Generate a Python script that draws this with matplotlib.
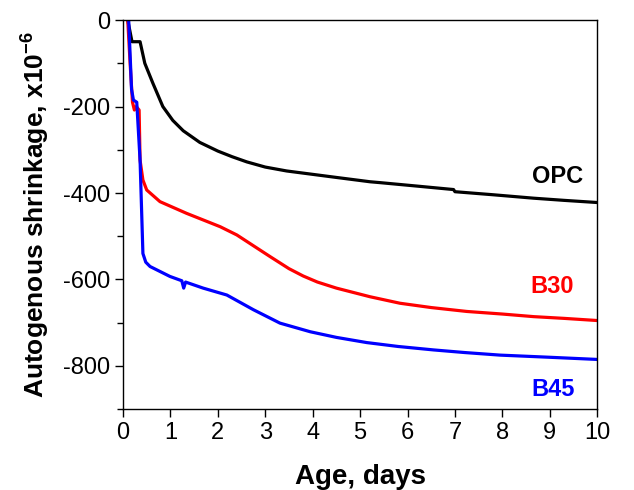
import numpy as np
import matplotlib.pyplot as plt
from matplotlib.ticker import MultipleLocator

plt.rcParams['font.family'] = ['Liberation Sans', 'DejaVu Sans']
plt.rcParams['axes.unicode_minus'] = False
plt.rcParams['mathtext.fontset'] = 'custom'
plt.rcParams['mathtext.rm'] = 'Liberation Sans'
plt.rcParams['mathtext.bf'] = 'Liberation Sans:bold'

# OPC
opc_x = [0.10, 0.19, 0.36, 0.46, 0.63, 0.84, 1.05, 1.27, 1.62, 2.0, 2.3, 2.61, 3.0, 3.45, 3.73,
         4.5, 5.21, 5.42, 6.2, 6.97, 7.0, 7.8, 8.66, 9.3, 10.0]
opc_y = [0, -50, -50, -100, -146, -200, -232, -256, -283, -303, -316, -328, -340, -349, -353,
         -364, -374, -376, -384, -392, -397, -404, -412, -417, -422]

# B30
b30_x = [0.10, 0.15, 0.20, 0.24, 0.28, 0.34, 0.36, 0.42, 0.50, 0.78, 1.34, 2.05, 2.4, 3.1, 3.5,
         3.8, 4.1, 4.5, 5.21, 5.84, 6.5, 7.25, 8.0, 8.66, 9.3, 10.0]
b30_y = [0, -100, -190, -208, -200, -208, -324, -370, -393, -420, -447, -478, -497, -547, -575,
         -592, -606, -620, -640, -655, -665, -674, -680, -686, -690, -695]

# B45
b45_x = [0.12, 0.18, 0.22, 0.29, 0.36, 0.42, 0.48, 0.57, 0.99, 1.24, 1.28, 1.32, 1.69, 2.19,
         2.75, 3.31, 3.95, 4.5, 5.14, 5.8, 6.55, 7.2, 7.95, 9.0, 10.0]
b45_y = [0, -160, -185, -190, -324, -540, -560, -570, -593, -603, -620, -606, -620, -636,
         -670, -701, -721, -734, -746, -755, -763, -769, -775, -780, -785]

fig = plt.figure(figsize=(6.34, 4.9), dpi=100)
ax = fig.add_axes([0.194, 0.165, 0.748, 0.794])

ax.plot(opc_x, opc_y, color='black', lw=2.3)
ax.plot(b30_x, b30_y, color='#ff0000', lw=2.3)
ax.plot(b45_x, b45_y, color='#0000ff', lw=2.3)

ax.text(9.16, -361, 'OPC', color='black', fontsize=17, fontweight='bold', ha='center', va='center')
ax.text(9.05, -617, 'B30', color='#ff0000', fontsize=17, fontweight='bold', ha='center', va='center')
ax.text(9.07, -855, 'B45', color='#0000ff', fontsize=17, fontweight='bold', ha='center', va='center')

ax.set_xlim(0, 10)
ax.set_ylim(-900, 0)
ax.xaxis.set_major_locator(MultipleLocator(1))
ax.yaxis.set_major_locator(MultipleLocator(200))
ax.yaxis.set_minor_locator(MultipleLocator(100))
ax.tick_params(axis='both', which='major', labelsize=17, length=6, width=1, direction='out')
ax.tick_params(axis='y', which='minor', length=4, width=1, direction='out')
for s in ax.spines.values():
    s.set_linewidth(1)

ax.set_xlabel('Age, days', fontsize=20, fontweight='bold', labelpad=14)
ax.set_ylabel(r'Autogenous shrinkage, x10$^{\mathbf{-6}}$', fontsize=19, fontweight='bold', labelpad=8)

fig.savefig('out.png', dpi=100)
